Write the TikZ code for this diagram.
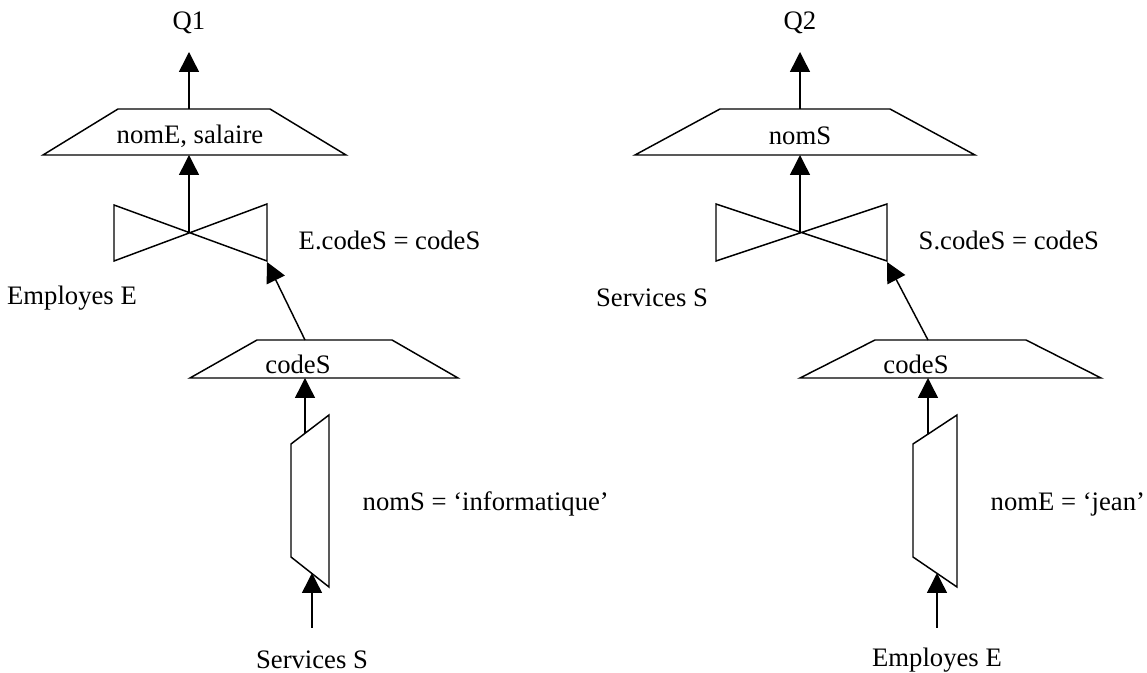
\documentclass[tikz,border=0pt]{standalone}
\usepackage{fontspec}
\setmainfont{Liberation Serif}
\usetikzlibrary{arrows.meta}

\begin{document}
\begin{tikzpicture}[x=0.75pt, y=-0.75pt, line width=1.1pt,
    lbl/.style={font=\fontsize{20}{24}\selectfont, inner sep=0pt},
    op/.style={draw, line join=miter},
    flow/.style={-{Triangle[length=15pt, width=15pt]}}]
        \useasboundingbox (0,0) rectangle (1147,673);

        % Left tree (Q1)
        \node[lbl] (Q1) at (189,23) {Q1};
        \coordinate (Q1in) at (189,52);
        \draw[op] (118,109) -- (270,109) -- (346,155) -- (43,155) -- cycle;
        \node[lbl] (projA) at (190,136) {nomE, salaire};
        \coordinate (projAtop) at (189,109);
        \coordinate (projAbot) at (189,155);
        \draw[op] (114,205) -- (267,261) -- (267,204) -- (114,261) -- cycle;
        \coordinate (joinA) at (189,232);
        \coordinate (joinAr) at (267,262);
        \node[lbl, anchor=west] (condA) at (298,240) {E.codeS = codeS};
        \node[lbl] (empA) at (72,298) {Employes E};
        \draw[op] (257,340) -- (392,340) -- (458,378) -- (190,378) -- cycle;
        \node[lbl, anchor=base] (codeA) at (298,374) {codeS};
        \coordinate (codeAtop) at (305,340);
        \coordinate (codeAbot) at (305,378);
        \draw[op] (291,444) -- (329,415) -- (329,587) -- (291,557) -- cycle;
        \coordinate (selAtop) at (305,433);
        \coordinate (selAbot) at (312,573);
        \node[lbl, anchor=base west] (predA) at (362,511) {nomS = ‘informatique’};
        \node[lbl] (servA) at (312,660) {Services S};
        \coordinate (servAout) at (312,628);

        % Right tree (Q2)
        \node[lbl] (Q2) at (800,23) {Q2};
        \coordinate (Q2in) at (800,52);
        \draw[op] (720,109) -- (890,109) -- (975,155) -- (635,155) -- cycle;
        \node[lbl] (projB) at (800,136) {nomS};
        \coordinate (projBtop) at (800,109);
        \coordinate (projBbot) at (800,155);
        \draw[op] (716,204) -- (887,261) -- (887,204) -- (716,261) -- cycle;
        \coordinate (joinB) at (800,232);
        \coordinate (joinBr) at (887,262);
        \node[lbl, anchor=west] (condB) at (918,240) {S.codeS = codeS};
        \node[lbl] (servB) at (652,298) {Services S};
        \draw[op] (875,340) -- (1026,340) -- (1101,378) -- (800,378) -- cycle;
        \node[lbl, anchor=base] (codeB) at (916,374) {codeS};
        \coordinate (codeBtop) at (928,340);
        \coordinate (codeBbot) at (928,378);
        \draw[op] (913,444) -- (957,415) -- (957,587) -- (913,557) -- cycle;
        \coordinate (selBtop) at (928,434);
        \coordinate (selBbot) at (937,573);
        \node[lbl, anchor=base west] (predB) at (990,511) {nomE = ‘jean’};
        \node[lbl] (empB) at (937,660) {Employes E};
        \coordinate (empBout) at (937,628);

        % Arrows
        \draw[flow] (projAtop) -- (Q1in);
        \draw[flow] (joinA) -- (projAbot);
        \draw[flow] (codeAtop) -- (joinAr);
        \draw[flow] (selAtop) -- (codeAbot);
        \draw[flow] (servAout) -- (selAbot);
        \draw[flow] (projBtop) -- (Q2in);
        \draw[flow] (joinB) -- (projBbot);
        \draw[flow] (codeBtop) -- (joinBr);
        \draw[flow] (selBtop) -- (codeBbot);
        \draw[flow] (empBout) -- (selBbot);
    \end{tikzpicture}
\end{document}
